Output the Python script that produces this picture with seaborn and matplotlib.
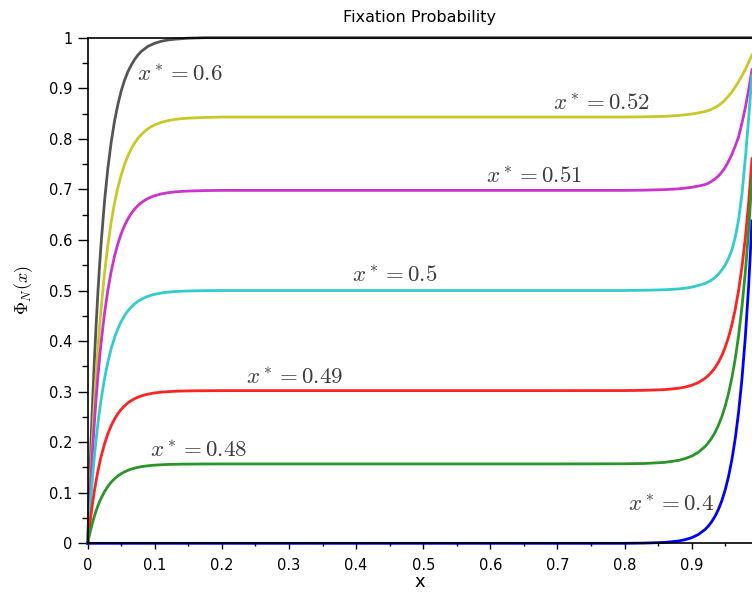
import matplotlib
matplotlib.use("Agg")
import matplotlib.pyplot as plt
from matplotlib.ticker import MultipleLocator, FuncFormatter
import seaborn as sns
import pandas as pd

# ---- data ----
x_vals = [0, 0.0025, 0.005, 0.0075, 0.01, 0.0125, 0.015, 0.0175, 0.02, 0.025, 0.03, 0.035,
          0.04, 0.045, 0.05, 0.055, 0.06, 0.065, 0.07, 0.075, 0.08, 0.085, 0.09, 0.095, 0.1,
          0.11, 0.12, 0.13, 0.14, 0.15, 0.175, 0.2,
          0.3, 0.4, 0.5, 0.6, 0.7,
          0.8, 0.83, 0.86, 0.88, 0.89, 0.9, 0.91, 0.92, 0.925, 0.93, 0.935, 0.94, 0.945,
          0.95, 0.955, 0.96, 0.965, 0.97, 0.975, 0.98, 0.985, 0.99]

phi_060 = [0, 0.106, 0.202, 0.286, 0.362, 0.430, 0.491, 0.545, 0.593, 0.675, 0.741, 0.793,
           0.835, 0.868, 0.895, 0.916, 0.933, 0.946, 0.957, 0.966, 0.973, 0.978, 0.983, 0.986,
           0.989, 0.993, 0.9955, 0.997, 0.998, 0.999, 1.0, 1.0,
           1.0, 1.0, 1.0, 1.0, 1.0,
           1.0, 1.0, 1.0, 1.0, 1.0, 1.0, 1.0, 1.0, 1.0, 1.0, 1.0, 1.0, 1.0,
           1.0, 1.0, 1.0, 1.0, 1.0, 1.0, 1.0, 1.0, 1.0]
phi_052 = [0, 0.0803, 0.1528, 0.2185, 0.2779, 0.3317, 0.3804, 0.4244, 0.4642, 0.5329, 0.5891,
           0.6351, 0.6728, 0.7037, 0.7289, 0.7496, 0.7665, 0.7804, 0.7917, 0.8010, 0.8086,
           0.8148, 0.8200, 0.8241, 0.8276, 0.8326, 0.8361, 0.8384, 0.8399, 0.8409, 0.8422, 0.843,
           0.843, 0.843, 0.843, 0.843, 0.843,
           0.843, 0.8435, 0.8444, 0.8461, 0.8474, 0.849, 0.8512, 0.854, 0.856, 0.8587, 0.862,
           0.8659, 0.871, 0.8771, 0.8846, 0.8929, 0.9023, 0.913, 0.9246, 0.937, 0.9513, 0.9659]
phi_051 = [0, 0.0696, 0.1322, 0.1886, 0.2394, 0.2851, 0.3262, 0.3633, 0.3967, 0.4538, 0.5000,
           0.5375, 0.5679, 0.5925, 0.6125, 0.6287, 0.6418, 0.6525, 0.6611, 0.6681, 0.6738,
           0.6783, 0.6821, 0.6851, 0.6875, 0.6911, 0.6935, 0.6950, 0.6960, 0.6967, 0.6976, 0.698,
           0.698, 0.698, 0.698, 0.698, 0.698,
           0.698, 0.6985, 0.6995, 0.701, 0.7024, 0.704, 0.7065, 0.7095, 0.7122, 0.7161, 0.7207,
           0.7267, 0.7342, 0.7433, 0.7554, 0.769, 0.7856, 0.8037, 0.8309, 0.8611, 0.8973, 0.9366]
phi_050 = [0, 0.0499, 0.0947, 0.1351, 0.1715, 0.2042, 0.2337, 0.2603, 0.2842, 0.3251, 0.3582,
           0.3851, 0.4068, 0.4245, 0.4388, 0.4504, 0.4598, 0.4674, 0.4736, 0.4786, 0.4827,
           0.4859, 0.4886, 0.4908, 0.4925, 0.4951, 0.4968, 0.4979, 0.4986, 0.4991, 0.4997, 0.5,
           0.5, 0.5, 0.5, 0.5, 0.5,
           0.5, 0.5005, 0.5015, 0.503, 0.5045, 0.5065, 0.51, 0.514, 0.517, 0.521, 0.526,
           0.5325, 0.5405, 0.55, 0.5635, 0.58, 0.605, 0.64, 0.69, 0.76, 0.84, 0.925]
phi_049 = [0, 0.0301, 0.0572, 0.0816, 0.1036, 0.1233, 0.1412, 0.1572, 0.1716, 0.1963, 0.2163,
           0.2326, 0.2457, 0.2564, 0.2650, 0.2720, 0.2777, 0.2823, 0.2860, 0.2890, 0.2915,
           0.2935, 0.2951, 0.2964, 0.2975, 0.2990, 0.3000, 0.3007, 0.3012, 0.3015, 0.3018, 0.302,
           0.302, 0.302, 0.302, 0.302, 0.302,
           0.3021, 0.3026, 0.3040, 0.3065, 0.3089, 0.3125, 0.3179, 0.3262, 0.3319, 0.3389,
           0.3475, 0.3582, 0.3713, 0.3875, 0.4075, 0.4321, 0.4625, 0.5000, 0.5462, 0.6033,
           0.6738, 0.7606]
phi_048 = [0, 0.0157, 0.0297, 0.0424, 0.0539, 0.0641, 0.0734, 0.0817, 0.0892, 0.1021, 0.1125,
           0.1209, 0.1277, 0.1333, 0.1378, 0.1414, 0.1444, 0.1468, 0.1487, 0.1503, 0.1516,
           0.1526, 0.1534, 0.1541, 0.1546, 0.1554, 0.1560, 0.1563, 0.1566, 0.1567, 0.1569, 0.157,
           0.157, 0.157, 0.157, 0.157, 0.157,
           0.1573, 0.1579, 0.1601, 0.1639, 0.1674, 0.1724, 0.1800, 0.1914, 0.1990, 0.2083,
           0.2196, 0.2335, 0.2504, 0.2711, 0.2963, 0.3272, 0.3649, 0.4109, 0.4671, 0.5358,
           0.6196, 0.7221]
phi_040 = [0, 0, 0, 0, 0, 0, 0, 0, 0, 0, 0, 0, 0, 0, 0, 0, 0, 0, 0, 0, 0, 0, 0, 0, 0,
           0, 0, 0, 0, 0, 0, 0,
           0, 0, 0, 0, 0,
           0.0, 0.0005, 0.0018, 0.0045, 0.0071, 0.0111, 0.0174, 0.0273, 0.0342, 0.0429, 0.0537,
           0.0672, 0.0842, 0.1054, 0.1320, 0.1653, 0.2070, 0.2592, 0.3247, 0.4066, 0.5092, 0.6376]

curve_labels = ["$x^* = 0.6$", "$x^* = 0.52$", "$x^* = 0.51$", "$x^* = 0.5$",
                "$x^* = 0.49$", "$x^* = 0.48$", "$x^* = 0.4$"]
curve_colors = ["#555555", "#c8c828", "#cc33cc", "#33cccc", "#ff2222", "#2a962a", "#0000ff"]
label_x = [0.137, 0.766, 0.666, 0.458, 0.308, 0.165, 0.870]
label_y = [0.928, 0.870, 0.725, 0.529, 0.327, 0.183, 0.076]

x_ticks = [0, 0.1, 0.2, 0.3, 0.4, 0.5, 0.6, 0.7, 0.8, 0.9]
y_ticks = [0, 0.1, 0.2, 0.3, 0.4, 0.5, 0.6, 0.7, 0.8, 0.9, 1]

series = [phi_060, phi_052, phi_051, phi_050, phi_049, phi_048, phi_040]

plt.rcParams["mathtext.fontset"] = "cm"
plt.rcParams["font.family"] = ["DejaVu Sans"]

fig = plt.figure(figsize=(7.52, 5.97), dpi=100)
ax = fig.add_axes([0.1166, 0.0899, 0.8834, 0.8470])

for ys, col in zip(series, curve_colors):
    df = pd.DataFrame({"x": x_vals, "phi": ys})
    sns.lineplot(data=df, x="x", y="phi", color=col, linewidth=2.0, ax=ax,
                 estimator=None, sort=False, clip_on=False, zorder=2)

for lab, lx, ly in zip(curve_labels, label_x, label_y):
    ax.text(lx, ly, lab, fontsize=16.5, color="#3c3c3c", ha="center", va="center")

ax.set_xlim(0, 0.99)
ax.set_ylim(0, 1)
ax.set_xticks(x_ticks)
ax.set_yticks(y_ticks)
ax.xaxis.set_minor_locator(MultipleLocator(0.05))
ax.yaxis.set_minor_locator(MultipleLocator(0.05))
fmt = FuncFormatter(lambda v, p: f"{v:g}")
ax.xaxis.set_major_formatter(fmt)
ax.yaxis.set_major_formatter(fmt)

ax.tick_params(axis="y", which="major", length=7, width=1, labelsize=10.5, pad=4)
ax.tick_params(axis="y", which="minor", length=4, width=1)
ax.tick_params(axis="x", which="major", length=4.5, width=1, labelsize=10.5, pad=6)
ax.tick_params(axis="x", which="minor", length=2.5, width=1)

for s in ["left", "bottom", "top"]:
    ax.spines[s].set_linewidth(1.2)
    ax.spines[s].set_color("black")
    ax.spines[s].set_zorder(3)
ax.spines["right"].set_visible(False)

ax.set_title("Fixation Probability", fontsize=11.5, pad=11)
ax.set_xlabel("x", fontsize=13, labelpad=0)
ax.set_ylabel(r"$\Phi_N(x)$", fontsize=13, labelpad=10)

fig.savefig("out.png", dpi=100)
